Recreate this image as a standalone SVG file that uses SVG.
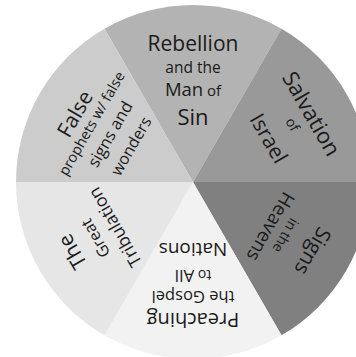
<svg xmlns="http://www.w3.org/2000/svg" width="356" height="357" viewBox="0 0 356 357">
<style>
text{font-family:"Open Sans","Noto Sans","DejaVu Sans",sans-serif;fill:#1a1a1a;text-anchor:middle}
</style>
<defs>
<path id="wedge" d="M0 0 L-88.5 -153.29 A177 177 0 0 1 88.5 -153.29 Z"/>
</defs>
<g id="rebellion" transform="translate(193 182) rotate(0)">
<use href="#wedge" fill="#b3b3b3"/>
<text y="-131" font-size="21">Rebellion</text>
<text y="-109.5" font-size="15.5">and the</text>
<text y="-86"><tspan font-size="18.5">Man</tspan><tspan font-size="15"> of</tspan></text>
<text y="-57" font-size="22">Sin</text>
</g>
<g id="salvation" transform="translate(193 182) rotate(60)">
<use href="#wedge" fill="#999999"/>
<text y="-129" font-size="22">Salvation</text>
<text y="-110" font-size="14">of</text>
<text y="-80" font-size="21">Israel</text>
</g>
<g id="signs" transform="translate(193 182) rotate(120)">
<use href="#wedge" fill="#808080"/>
<text y="-131" font-size="21">Signs</text>
<text y="-102" font-size="14">in the</text>
<text y="-83" font-size="19">Heavens</text>
</g>
<g id="preaching" transform="translate(193 182) rotate(180)">
<use href="#wedge" fill="#f2f2f2"/>
<text y="-131" font-size="20">Preaching</text>
<text y="-109" font-size="16.5">the Gospel</text>
<text y="-87.5"><tspan font-size="14">to </tspan><tspan font-size="17">All</tspan></text>
<text y="-61" font-size="19">Nations</text>
</g>
<g id="tribulation" transform="translate(193 182) rotate(240)">
<use href="#wedge" fill="#e6e6e6"/>
<text y="-132" font-size="21">The</text>
<text y="-107" font-size="16">Great</text>
<text y="-84" font-size="17.5">Tribulation</text>
</g>
<g id="false" transform="translate(193 182) rotate(300)">
<use href="#wedge" fill="#cccccc"/>
<text y="-129" font-size="21">False</text>
<text y="-112" font-size="14.5">prophets w/ false</text>
<text y="-90" font-size="16.5">signs and</text>
<text y="-66" font-size="16">wonders</text>
</g>
<g id="connectors"></g>
</svg>
